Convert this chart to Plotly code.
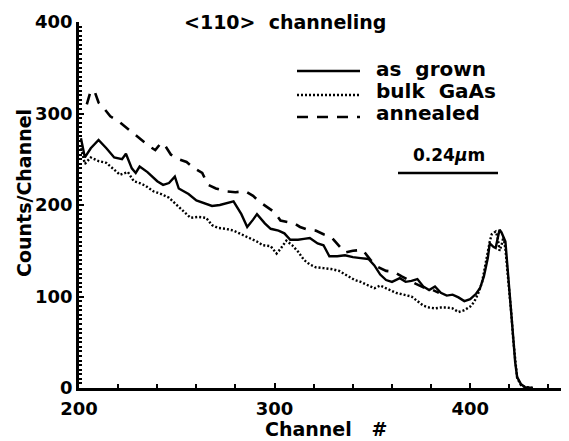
import plotly.graph_objects as go

# ---- data ----
grown_ch = [201, 203, 206, 210, 214, 218, 222, 224, 227, 229, 231, 235, 240, 243, 246, 249, 251,
            256, 260, 264, 268, 272, 276, 279, 283, 286, 289, 291, 295, 298, 302, 305, 308, 312,
            315, 318, 322, 325, 328, 332, 336, 340, 344, 348, 351, 354, 357, 360, 364, 367, 370,
            373, 376, 379, 382, 385, 388, 391, 394, 397, 400, 403, 405, 407, 409, 410, 412, 413,
            415, 416, 418, 419, 420, 421, 422, 423, 424, 426, 428, 432]
grown_val = [273, 252, 262, 271, 262, 252, 250, 256, 240, 235, 242, 236, 226, 222, 224, 231, 218,
             212, 205, 202, 199, 200, 202, 204, 190, 176, 184, 190, 180, 174, 172, 169, 162, 162,
             163, 164, 158, 156, 144, 144, 145, 143, 142, 141, 134, 124, 118, 116, 120, 116, 117,
             119, 111, 107, 111, 104, 101, 102, 99, 95, 97, 103, 109, 122, 142, 158, 154, 153,
             173, 170, 160, 135, 114, 85, 55, 28, 12, 4, 1, 0]

bulk_ch = [201, 203, 206, 210, 214, 218, 221, 225, 228, 231, 234, 238, 242, 246, 250, 254, 257,
           261, 265, 268, 271, 275, 279, 283, 287, 291, 294, 298, 301, 303, 306, 309, 312, 315,
           318, 321, 325, 329, 333, 337, 341, 344, 348, 351, 354, 358, 362, 366, 370, 373, 376,
           379, 382, 385, 388, 391, 394, 397, 400, 402, 404, 406, 408, 410, 411, 413, 414, 415,
           416, 417, 418, 419, 420, 421, 422, 423, 424, 426, 428, 432]
bulk_val = [262, 245, 252, 248, 246, 238, 233, 236, 226, 224, 221, 215, 212, 208, 200, 191, 186,
            187, 186, 178, 175, 174, 172, 168, 164, 160, 156, 155, 147, 152, 161, 156, 149, 140,
            135, 132, 131, 130, 128, 123, 118, 116, 112, 109, 112, 108, 104, 102, 100, 95, 90,
            88, 87, 88, 88, 87, 83, 85, 89, 94, 103, 115, 138, 160, 168, 171, 165, 150,
            156, 165, 152, 130, 110, 82, 53, 27, 11, 3, 1, 0]

annealed_ch = [204, 206, 208, 210, 213, 216, 220, 224, 228, 232, 236, 239, 242, 244, 247, 251, 255,
               259, 263, 266, 270, 275, 280, 285, 289, 292, 296, 300, 303, 306, 310, 313, 317, 321,
               325, 329, 333, 336, 340, 345, 349, 353, 357, 361, 365, 369, 372, 376, 380, 384]
annealed_val = [310, 325, 324, 312, 305, 297, 292, 285, 278, 270, 264, 260, 268, 265, 255, 250, 247,
                240, 235, 222, 218, 215, 214, 215, 210, 204, 198, 192, 183, 182, 180, 176, 173, 172,
                168, 165, 155, 148, 150, 151, 140, 132, 128, 127, 122, 117, 114, 110, 108, 104]

series_names = ["as\u00a0\u00a0grown", "bulk\u00a0\u00a0GaAs", "annealed"]
title_text = "&lt;110&gt;\u00a0\u00a0channeling"
x_title = "Channel\u00a0\u00a0\u00a0#"
y_title = "Counts/Channel"
scale_text = "0.24<i>\u03bc</i>m"

FONT = "DejaVu Sans"

fig = go.Figure()
fig.add_trace(go.Scatter(x=grown_ch, y=grown_val, mode="lines",
                         line=dict(color="black", width=2.4), name=series_names[0]))
fig.add_trace(go.Scatter(x=bulk_ch, y=bulk_val, mode="lines",
                         line=dict(color="black", width=2.4, dash="2px,2px"), name=series_names[1]))
fig.add_trace(go.Scatter(x=annealed_ch, y=annealed_val, mode="lines",
                         line=dict(color="black", width=2.6, dash="11px,9px"), name=series_names[2]))

# page body has an 8px margin: the figure is drawn at (8, 8)
fig.update_layout(
    width=561, height=433,
    margin=dict(l=71, r=1, t=14, b=53, autoexpand=False),
    paper_bgcolor="white", plot_bgcolor="white",
    showlegend=False,
    font=dict(family=FONT, color="black", size=17, weight="bold"),
)

fig.update_xaxes(range=[200, 450], showgrid=False, zeroline=False,
                 showline=True, linecolor="black", linewidth=2.5,
                 tickvals=[200, 300, 400], ticks="inside", ticklen=5, tickwidth=2, tickcolor="black",
                 ticklabelstandoff=3,
                 minor=dict(dtick=20, tick0=200, ticks="inside", ticklen=4, tickwidth=2, tickcolor="black"),
                 tickfont=dict(family=FONT, size=18, color="black", weight="bold"))
fig.update_yaxes(range=[0, 400], showgrid=False, zeroline=False,
                 showline=True, linecolor="black", linewidth=2.5,
                 tickvals=[0, 100, 200, 300, 400], ticks="inside", ticklen=5, tickwidth=2, tickcolor="black",
                 minor=dict(dtick=5, tick0=0, ticks="inside", ticklen=3, tickwidth=2, tickcolor="black"),
                 tickfont=dict(family=FONT, size=18, color="black", weight="bold"))

# helper: screen pixel (in the 569x441 window) -> paper coordinates
def px2paper(px, py):
    return (px - 79) / 489.0, (388 - py) / 366.0

annots = []
tx, ty = px2paper(285, 22)
annots.append(dict(x=tx, y=ty, xref="paper", yref="paper", text=title_text, showarrow=False,
                   xanchor="center", yanchor="middle", font=dict(size=19, family=FONT, weight="bold")))
tx, ty = px2paper(326, 429)
annots.append(dict(x=tx, y=ty, xref="paper", yref="paper", text=x_title, showarrow=False,
                   xanchor="center", yanchor="middle", font=dict(size=19, family=FONT, weight="bold")))
tx, ty = px2paper(24, 193)
annots.append(dict(x=tx, y=ty, xref="paper", yref="paper", text=y_title, showarrow=False, textangle=-90,
                   xanchor="center", yanchor="middle", font=dict(size=19, family=FONT, weight="bold")))
for name, py in zip(series_names, [69, 91, 113]):
    tx, ty = px2paper(374, py)
    annots.append(dict(x=tx, y=ty, xref="paper", yref="paper", text=name, showarrow=False,
                       xanchor="left", yanchor="middle", font=dict(size=20, family=FONT, weight="bold")))
tx, ty = px2paper(449, 155)
annots.append(dict(x=tx, y=ty, xref="paper", yref="paper", text=scale_text, showarrow=False,
                   xanchor="center", yanchor="middle", font=dict(size=17, family=FONT, weight="bold")))
fig.update_layout(annotations=annots)

shapes = []
for dash, py, w in zip(["solid", "2px,2px", "11px,9px"], [71, 95, 117], [2.4, 2.4, 2.6]):
    x0, y0 = px2paper(297, py)
    x1, _ = px2paper(360, py)
    shapes.append(dict(type="line", xref="paper", yref="paper", x0=x0, x1=x1, y0=y0, y1=y0,
                       line=dict(color="black", width=w, dash=dash)))
x0, y0 = px2paper(398, 173)
x1, _ = px2paper(498, 173)
shapes.append(dict(type="line", xref="paper", yref="paper", x0=x0, x1=x1, y0=y0, y1=y0,
                   line=dict(color="black", width=2.5)))
fig.update_layout(shapes=shapes)

fig.write_html("out.html")
